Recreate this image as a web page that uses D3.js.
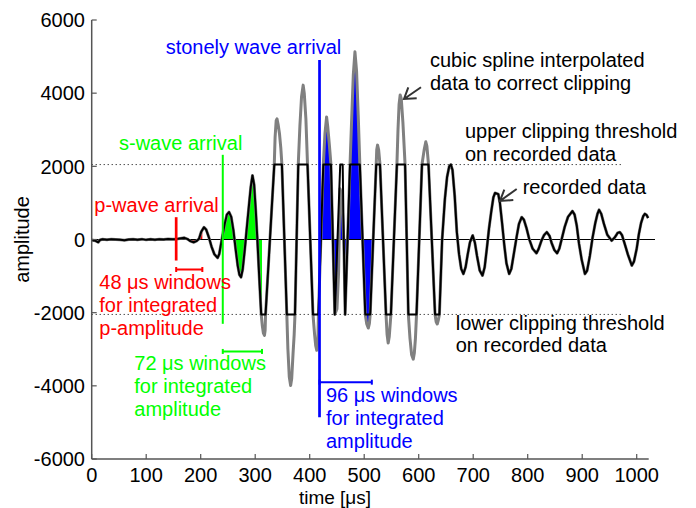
<!DOCTYPE html>
<html><head><meta charset="utf-8">
<script src="https://cdn.jsdelivr.net/npm/d3@7"></script>
<style>
body{margin:0;background:#fff}
svg{display:block}
text{font-family:"Liberation Sans",Arial,Helvetica,sans-serif;font-size:20px}
</style>
</head><body>
<svg id="chart" width="696" height="508"></svg>
<script>
// recorded (clipped) data: [time µs, amplitude]
const recorded = [
[0,-15],[4,-25],[8,-45],[12,-75],[15,-15],[20,5],[28,-5],[36,10],[44,0],[52,-10],[60,-20],[68,0],[76,5],[84,-5],[92,10],[100,-10],[108,5],[116,-5],[124,10],[132,0],[140,15],[148,5],[155,10],[162,30],[170,45],[176,10],[181,-45],[187,-75],[192,-45],[197,20],[201,210],[206,335],[210,270],[215,60],[220,-200],[225,-400],[231,-500],[234,-400],[237,-150],[240,100],[244,420],[248,680],[252,750],[256,620],[260,250],[264,-250],[268,-720],[271,-960],[274,-1030],[277,-820],[281,-250],[285,380],[289,1000],[292,1450],[295,1750],[298,1500],[301,800],[304,0],[307,-900],[311,-2048],[319,-2048],[327,0],[335,2048],[349,2048],[353.5,0],[358,-2048],[373,-2048],[376,0],[379,2048],[396,2048],[401,0],[406,-2048],[416,-2048],[420.5,0],[425,2048],[439,2048],[442.5,0],[446,-2048],[451,0],[456,2048],[460.5,2048],[462.5,0],[465,-2048],[469.5,0],[474,2048],[492,2048],[497,0],[502,-2048],[511,-2048],[516.5,0],[522,2048],[529,2048],[534.5,0],[540,-2048],[549,-2048],[554.5,0],[560,2048],[575,2048],[578,0],[581,-2048],[596,-2048],[601,0],[606,2048],[618,2048],[624,0],[630,-2048],[638,-2048],[643,0],[648,1100],[652,1700],[656,2000],[659,2048],[662,1900],[666,1200],[670,200],[674,-400],[678,-800],[682,-940],[686,-760],[690,-400],[694,-80],[699,110],[703,-80],[707,-450],[712,-850],[717,-985],[721,-760],[725,-250],[729,300],[733,750],[737,1150],[740,1270],[746,1240],[749,1000],[753,450],[757,-150],[761,-650],[766,-940],[770,-800],[775,-350],[780,100],[784,430],[789,610],[793,540],[798,300],[803,0],[809,-250],[816,-375],[820,-260],[825,-40],[830,120],[835,200],[840,100],[844,-100],[849,-290],[854,-375],[858,-250],[863,50],[868,350],[874,620],[882,775],[886,680],[890,380],[894,-100],[899,-550],[905,-940],[909,-850],[914,-450],[919,50],[924,450],[928,700],[931,810],[935,700],[940,420],[946,130],[954,-30],[960,60],[965,180],[969,200],[973,120],[978,-120],[984,-420],[991,-710],[995,-600],[1000,-250],[1004,150],[1008,450],[1012,640],[1015,700],[1018,670],[1021,590]
];

// cubic-spline corrected segments replacing the clipped parts
const splinePatches = [
[[311,-2048],[313,-2350],[315,-2560],[317,-2620],[318.2,-2480],[319,-2048]],
[[335,2048],[336.5,2800],[338.5,3250],[340,3300],[342,3150],[344.5,2900],[347,2500],[349,2048]],
[[358,-2048],[360,-3000],[362.5,-3750],[365,-3990],[367,-3800],[369.5,-3100],[371.5,-2600],[373,-2048]],
[[379,2048],[382,3100],[385,3900],[388,4220],[390,4000],[393,3300],[396,2048]],
[[406,-2048],[409,-2600],[411,-2900],[413,-3030],[415,-2800],[416,-2048]],
[[425,2048],[428,2900],[431,3350],[433,3100],[436,2600],[439,2048]],
[[446,-2048],[450,-1900],[453,-900],[455.6,1390],[457.5,1300],[460,800],[462.5,0]],
[[474,2048],[477,3300],[480,4500],[483,5130],[486,4600],[489,3400],[492,2048]],
[[502,-2048],[504.5,-2300],[507.5,-2420],[509.5,-2300],[511,-2048]],
[[522,2048],[523,2450],[524.5,2580],[526.5,2450],[529,2048]],
[[540,-2048],[542,-2600],[544,-2830],[546,-2650],[549,-2048]],
[[560,2048],[562,3000],[564,3700],[566,3950],[568,3850],[571,3200],[575,2048]],
[[581,-2048],[584,-2700],[587,-3150],[590,-3270],[592,-3100],[594,-2700],[596,-2048]],
[[606,2048],[610,2450],[613,2670],[615,2550],[618,2048]],
[[630,-2048],[632,-2250],[634,-2310],[636,-2200],[638,-2048]]
];

const xTickValues = [0,100,200,300,400,500,600,700,800,900,1000];
const yTickValues = [-6000,-4000,-2000,0,2000,4000,6000];
const clipThreshold = 2048;
const pArrival = 155, sArrival = 240.5, stoneleyArrival = 418;
const pWindow = 48, sWindow = 72, stWindow = 96;
const pMarker = [610, -575], sMarker = [2315, -2305], stMarker = [4910, -4860];
const pBracketAmp = -820, sBracketAmp = -3060, stBracketAmp = -3900;

// build the interpolated series: recorded data with the clipped parts replaced
const interpolated = recorded
  .filter(([t]) => !splinePatches.some(p => t >= p[0][0] && t <= p[p.length-1][0]))
  .concat(splinePatches.flat())
  .sort((a,b) => a[0]-b[0]);

const svg = d3.select("#chart");
const x = d3.scaleLinear().domain([0,1022]).range([91.7,648.7]);
const y = d3.scaleLinear().domain([-6000,6000]).range([459,20]);

const RED="#ff0000", GREEN="#00ff00", BLUE="#0000ff";

// clip paths for windows
const defs = svg.append("defs");
function windowClip(id,t0,t1){
  defs.append("clipPath").attr("id",id).append("rect")
    .attr("x",x(t0)).attr("y",0).attr("width",x(t1)-x(t0)).attr("height",508);
}
windowClip("cp",pArrival,pArrival+pWindow);
windowClip("cs",sArrival,sArrival+sWindow);
windowClip("cst",stoneleyArrival,stoneleyArrival+stWindow);

const area = d3.area().x(d=>x(d[0])).y0(y(0)).y1(d=>y(d[1]));
svg.append("path").datum(recorded).attr("d",area).attr("fill",RED).attr("clip-path","url(#cp)");
svg.append("path").datum(recorded).attr("d",area).attr("fill",GREEN).attr("clip-path","url(#cs)");
svg.append("path").datum(interpolated).attr("d",area).attr("fill",BLUE).attr("clip-path","url(#cst)");

// zero line
svg.append("line").attr("x1",x(0)).attr("x2",655).attr("y1",y(0)).attr("y2",y(0))
  .attr("stroke","#000").attr("stroke-width",1);

// clipping thresholds
[clipThreshold,-clipThreshold].forEach(v=>{
  svg.append("line").attr("x1",x(0)).attr("x2",623).attr("y1",y(v)).attr("y2",y(v))
    .attr("stroke","#000").attr("stroke-width",1).attr("stroke-dasharray","1,3");
});

const line = d3.line().x(d=>x(d[0])).y(d=>y(d[1]));
svg.append("path").datum(interpolated).attr("d",line).attr("fill","none")
  .attr("stroke","#808080").attr("stroke-width",3).attr("stroke-linejoin","round");
svg.append("path").datum(recorded).attr("d",line).attr("fill","none")
  .attr("stroke","#000").attr("stroke-width",2).attr("stroke-linejoin","round");

// arrival markers and window brackets
function marker(t,ext,col,w){
  svg.append("line").attr("x1",x(t)).attr("x2",x(t)).attr("y1",y(ext[0])).attr("y2",y(ext[1]))
    .attr("stroke",col).attr("stroke-width",w);
}
function bracket(t0,t1,amp,col){
  const g = svg.append("g").attr("stroke",col).attr("stroke-width",2);
  g.append("line").attr("x1",x(t0)).attr("x2",x(t1)).attr("y1",y(amp)).attr("y2",y(amp));
  [t0,t1].forEach(t=>g.append("line").attr("x1",x(t)).attr("x2",x(t)).attr("y1",y(amp)-2.5).attr("y2",y(amp)+2.5));
}
marker(pArrival,pMarker,RED,2.7);
marker(sArrival,sMarker,GREEN,2);
marker(stoneleyArrival,stMarker,BLUE,2.7);
bracket(pArrival,pArrival+pWindow,pBracketAmp,RED);
bracket(sArrival,sArrival+sWindow,sBracketAmp,GREEN);
bracket(stoneleyArrival,stoneleyArrival+stWindow,stBracketAmp,BLUE);

// axes
const axCol="#555";
svg.append("line").attr("x1",x(0)).attr("x2",x(0)).attr("y1",y(6000)).attr("y2",y(-6000)).attr("stroke",axCol).attr("stroke-width",1.5);
svg.append("line").attr("x1",x(0)).attr("x2",x(1022)).attr("y1",y(-6000)).attr("y2",y(-6000)).attr("stroke",axCol).attr("stroke-width",1.5);
yTickValues.forEach(v=>{
  svg.append("line").attr("x1",x(0)).attr("x2",x(0)+5).attr("y1",y(v)).attr("y2",y(v)).attr("stroke",axCol).attr("stroke-width",1.2);
  svg.append("text").attr("x",85).attr("y",y(v)).attr("dy","0.36em").attr("text-anchor","end").attr("fill","#000").text(v);
});
xTickValues.forEach(v=>{
  svg.append("line").attr("x1",x(v)).attr("x2",x(v)).attr("y1",y(-6000)).attr("y2",y(-6000)-5).attr("stroke",axCol).attr("stroke-width",1.2);
  svg.append("text").attr("x",x(v)).attr("y",482).attr("text-anchor","middle").attr("fill","#000").text(v);
});
svg.append("text").attr("transform","translate(28.5,239.5) rotate(-90)").attr("text-anchor","middle").text("amplitude");
svg.append("text").attr("x",335).attr("y",504).attr("text-anchor","middle").style("font-size","19px").text("time [μs]");

// annotations
const notes = [
 ["stonely wave arrival",165.7,54,BLUE],
 ["cubic spline interpolated",430,67,"#000"],
 ["data to correct clipping",430,90,"#000"],
 ["upper clipping threshold",465,138,"#000"],
 ["on recorded data",465,161,"#000"],
 ["recorded data",522.7,194,"#000"],
 ["p-wave arrival",94.3,212,RED],
 ["s-wave arrival",119,150,GREEN],
 ["48 μs windows",99.3,289,RED],
 ["for integrated",99.3,312,RED],
 ["p-amplitude",99.3,335,RED],
 ["72 μs windows",134.3,370,GREEN],
 ["for integrated",134.3,393,GREEN],
 ["amplitude",134.3,416,GREEN],
 ["96 μs windows",326,402,BLUE],
 ["for integrated",326,425,BLUE],
 ["amplitude",326,448,BLUE],
 ["lower clipping threshold",455.7,330,"#000"],
 ["on recorded data",455.7,352,"#000"]
];
notes.forEach(([s,tx,ty,c])=>svg.append("text").attr("x",tx).attr("y",ty).attr("fill",c).text(s));

// arrows
svg.append("path").attr("d","M421,87.3 L404,99 M408.3,87.3 L404,99 L416.7,98.3")
  .attr("fill","none").attr("stroke","#333").attr("stroke-width",2);
svg.append("path").attr("d","M516.7,189 L500,201 M504.3,189.7 L500,201 L513.3,200")
  .attr("fill","none").attr("stroke","#333").attr("stroke-width",2);
</script>
</body></html>
